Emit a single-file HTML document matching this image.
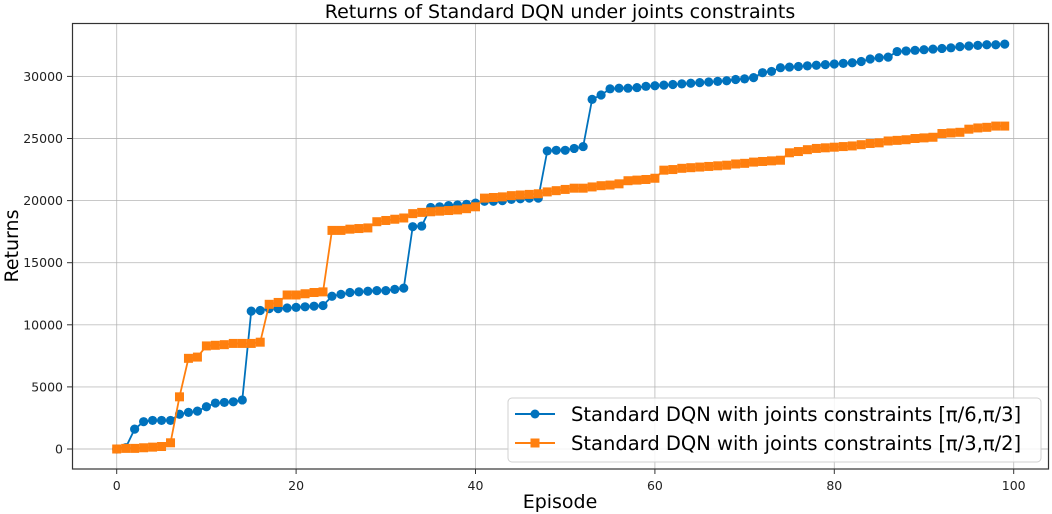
<!DOCTYPE html>
<html><head><meta charset="utf-8"><style>
html,body{margin:0;padding:0;background:#fff;}
svg{display:block;font-family:"DejaVu Sans","Liberation Sans",sans-serif;}
</style></head><body>
<svg id="chart" width="1052" height="514" viewBox="0 0 1052 514">
<text x="560" y="18" text-anchor="middle" font-size="19" fill="#000">Returns of Standard DQN under joints constraints</text>
<g id="grid"></g>
<g id="axes"></g>
<g id="series"></g>
<rect x="72.5" y="23.5" width="976" height="445.5" fill="none" stroke="#333" stroke-width="1.2"/>
<text x="560" y="508" text-anchor="middle" font-size="19">Episode</text>
<text transform="translate(18,246) rotate(-90)" text-anchor="middle" font-size="19">Returns</text>
<g>
<rect x="508" y="398" width="533" height="64" rx="4" fill="#fff" fill-opacity="0.85" stroke="#d0d0d0"/>
<g>
<line x1="515" y1="414" x2="555" y2="414" stroke="#0072bd" stroke-width="2"/>
<circle cx="535" cy="414" r="4.5" fill="#0072bd"/>
<text x="571" y="421" font-size="19.5">Standard DQN with joints constraints [π/6,π/3]</text></g>
<g>
<line x1="515" y1="443" x2="555" y2="443" stroke="#ff7f0e" stroke-width="2"/>
<rect x="530.5" y="438.5" width="9" height="9" fill="#ff7f0e"/>
<text x="571" y="450" font-size="19.5">Standard DQN with joints constraints [π/3,π/2]</text></g>
</g>
</svg>
<script>
const xTicks=[0,20,40,60,80,100];
const yTicks=[0,5000,10000,15000,20000,25000,30000];
const blue=[0,100,1600,2200,2300,2300,2300,2800,2950,3050,3400,3700,3750,3800,3950,11100,11150,11300,11300,11350,11400,11450,11500,11550,12300,12450,12600,12650,12700,12750,12750,12850,12950,17900,17950,19450,19500,19600,19650,19700,19800,19950,19950,20000,20100,20150,20200,20200,24000,24050,24050,24200,24350,28150,28500,29000,29050,29050,29100,29200,29250,29300,29350,29400,29450,29500,29550,29600,29650,29750,29800,29900,30300,30400,30700,30750,30800,30850,30900,30950,31000,31050,31100,31200,31400,31500,31550,32000,32050,32100,32150,32200,32250,32300,32400,32450,32500,32550,32550,32600];
const orange=[0,50,50,100,150,200,500,4200,7300,7400,8300,8350,8400,8500,8500,8500,8600,11650,11800,12400,12400,12500,12600,12650,17600,17600,17700,17750,17800,18300,18400,18500,18600,18950,19050,19100,19150,19200,19250,19350,19500,20200,20250,20300,20400,20450,20500,20550,20700,20800,20900,21000,21000,21100,21200,21250,21350,21600,21650,21700,21800,22450,22500,22600,22650,22700,22750,22800,22850,22950,23000,23100,23150,23200,23250,23850,23950,24100,24200,24250,24300,24350,24400,24500,24600,24650,24800,24850,24900,25000,25050,25100,25400,25450,25500,25750,25850,25900,26000,26000];
const NS='http://www.w3.org/2000/svg';
const X=v=>116.7+v*8.97;
const Y=v=>449-v*0.01242;
function mk(t,a,p){const e=document.createElementNS(NS,t);for(const k in a)e.setAttribute(k,a[k]);p.appendChild(e);return e;}
const grid=document.getElementById('grid'),axes=document.getElementById('axes'),ser=document.getElementById('series');
xTicks.forEach(t=>{
 const g=mk('line',{x1:X(t),x2:X(t),y1:23,y2:469,stroke:'#b0b0b0','stroke-width':0.9,'stroke-opacity':0.8},grid);
 
 
 mk('line',{x1:X(t),x2:X(t),y1:469,y2:474,stroke:'#333'},axes);
 const l=mk('text',{x:X(t),y:490,'text-anchor':'middle','font-size':12.5,fill:'#222'},axes);
 l.textContent=t;
 
 
});
yTicks.forEach(t=>{
 const g=mk('line',{x1:72,x2:1049,y1:Y(t),y2:Y(t),stroke:'#b0b0b0','stroke-width':0.9,'stroke-opacity':0.8},grid);
 
 
 mk('line',{x1:67,x2:72,y1:Y(t),y2:Y(t),stroke:'#333'},axes);
 const l=mk('text',{x:63,y:Y(t)+4.5,'text-anchor':'end','font-size':12.5,fill:'#222'},axes);
 l.textContent=t;
 
 
});
function draw(data,color,sq,name){
 const g=mk('g',{},ser);
 
 
 mk('polyline',{points:data.map((v,i)=>X(i)+','+Y(v)).join(' '),fill:'none',stroke:color,'stroke-width':1.8},g);
 data.forEach((v,i)=>{
  let m;
  if(sq)m=mk('rect',{x:X(i)-4.5,y:Y(v)-4.5,width:9,height:9,fill:color},g);
  else m=mk('circle',{cx:X(i),cy:Y(v),r:4.6,fill:color},g);
  
  
 });
}
draw(blue,'#0072bd',false,'series-pi6-pi3');
draw(orange,'#ff7f0e',true,'series-pi3-pi2');
</script>
</body></html>
